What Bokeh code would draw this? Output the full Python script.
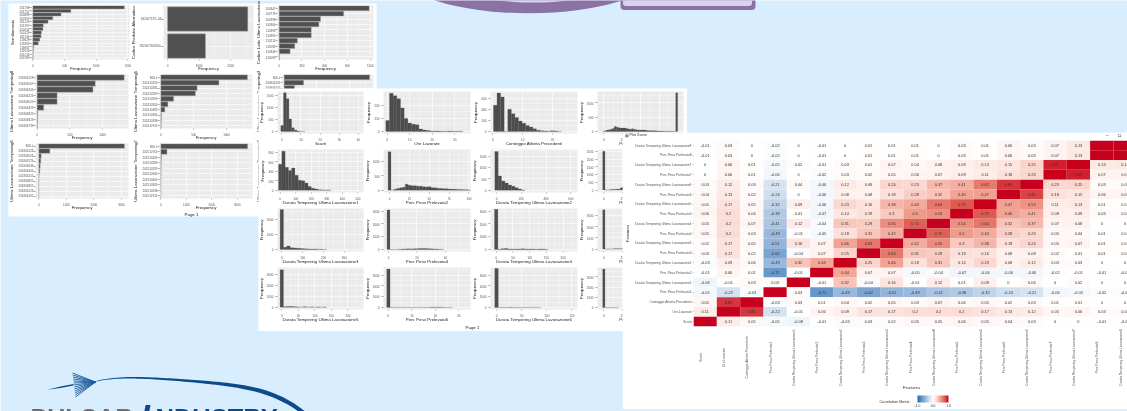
import numpy as np
from bokeh.core.properties import value
from bokeh.embed import file_html
from bokeh.models import (ColorBar, ColumnDataSource, FactorRange, FixedTicker,
                          LinearColorMapper, Range1d)
from bokeh.plotting import figure
from bokeh.resources import INLINE

# ---------- sheet 1: frequency bars ----------
SEMI_CATS = ["201798", "201751", "200889", "200297", "201129", "201297", "200254", "200129",
             "201131", "119628", "121895", "119691", "119530", "201214", "203785"]
SEMI_VALS = [1445, 600, 445, 315, 240, 165, 160, 135, 130, 110, 85, 12, 8, 5, 5]
ALT_CATS = ["94200757/1-I-B", "94200759/2900-"]
ALT_VALS = [2535, 1200]
LOT_CATS = ["100347", "100773", "100398", "100364", "110398", "110381", "110212", "110583", "110344", "110099"]
LOT_VALS = [1186, 850, 545, 523, 423, 423, 240, 205, 144, 5]
UL8_CATS = ["201806128", "201806207", "201806205", "201806225", "201806025", "201806425", "201806825", "201806923", "201806739"]
UL8_VALS = [1330, 888, 853, 305, 305, 100, 10, 8, 5]
UL5_CATS = ["NULL", "202410261", "202410281", "202410287", "202410581", "202410262", "202410481", "202410381", "202410286", "202410751"]
UL5_VALS = [1316, 883, 551, 525, 194, 107, 61, 10, 8, 5]
UL3_CATS = ["NULL", "200906101", "200906102", "200906103", "200906104", "200906105", "200906106", "200906107", "200906108", "200906109"]
UL3_VALS = [1316, 300, 160, 90, 60, 40, 30, 20, 10, 5]
UL6_CATS = ["NULL", "201806128", "201806526", "201806729", "201806639", "201806455", "201806255", "201806825", "201806857", "201806129", "201806197"]
UL6_VALS = [3108, 400, 85, 70, 50, 35, 8, 6, 5, 4, 3]
UL7_CATS = ["NULL", "202510761", "202510261", "202510281", "202510287", "202510581", "202510461", "202510381", "202510286", "202510751"]
UL7_VALS = [3408, 240, 25, 15, 10, 8, 5, 4, 3, 2]

# ---------- sheet 2: histograms (bin start, bin width, counts) ----------
H_SCARTI = (-0.5, 1.4, [250, 1600, 1350, 520, 160, 60, 20, 6, 3])
H_ORE = (-0.6, 1.63, [210, 730, 680, 625, 450, 250, 160, 140, 130, 50, 30, 20, 10, 10, 8, 5, 5, 8, 6, 3, 5])
H_CONT = (0.2, 1.2, [470, 690, 620, 0, 400, 320, 250, 190, 150, 110, 80, 50, 25, 15, 10, 5, 14, 8, 3])
H_P1 = (-1.3, 2.6, [10, 30, 50, 60, 80, 110, 175, 150, 130, 120, 125, 120, 110, 90, 80, 95, 75, 60, 55, 50,
                    50, 55, 45, 35, 30, 30, 28, 25, 20, 18, 15, 14, 12, 10, 8, 8, 6, 0, 1354])
H_D1 = (-10, 21, [550, 830, 490, 420, 470, 320, 210, 200, 150, 80, 40, 25, 10, 5, 3, 2])
H_P2 = (-1.8, 3.6, [1350, 0, 30, 60, 80, 100, 210, 170, 150, 150, 140, 135, 120, 110, 120, 85, 80, 65, 60, 50, 45, 40, 35, 30, 25, 20, 15, 10, 5])
H_D2 = (-13.5, 27, [1700, 620, 400, 320, 230, 170, 110, 50, 10])
H_P3 = (-1.5, 3, [2500, 5, 5, 20, 30, 40, 50, 60, 150, 200, 120, 80, 60, 40, 25, 15, 10, 5])
H_D3 = (-8, 16, [2650, 150, 230, 120, 100, 80, 60, 50, 40, 30, 30, 20, 15, 5])
H_P4 = (-1, 2, [3100, 0, 0, 5, 10, 30, 40, 50, 45, 50, 60, 70, 80, 75, 60, 50, 40, 30, 10, 5])
H_D4 = (-5, 10, [3150, 20, 60, 80, 40, 30, 35, 40, 50, 40, 35, 30, 25, 40, 30, 10])
H_P5 = (-1.5, 3, [3513, 2, 4, 8, 15, 30, 40, 30, 20, 15, 10, 5])
H_D5 = (-5, 10, [3400, 40, 50, 60, 40, 20, 0, 30, 0, 25, 0, 25, 0, 20])
H_P6 = (-0.7, 1.4, [3550, 0, 0, 0, 2, 0, 0, 0, 2, 0, 3, 0, 5, 10, 30, 30, 10, 3, 0, 2])
H_D6 = (-3.5, 7, [3600, 0, 0, 0, 20, 0, 0, 0, 2, 0, 3, 0, 2])
H_P7 = (-1.5, 3, [3750, 0, 2, 0, 3, 5, 2])

# ---------- correlation matrix ----------
DUR = "Durata Tempering Ultima Lavorazione"
PERC = "Perc.Peso.Prelevato"
FEATURES = ["Scarti", "Ore.Lavorate", "Conteggio.Attivita.Precedenti"]
for _n in range(1, 9):
    FEATURES += [f"{PERC}{_n}", f"{DUR}{_n}"]

MATRIX_TOP_DOWN = [
    [-0.01, 0.03, 0, -0.02, 0, -0.01, 0, 0.01, 0.01, 0.01, 0, 0.03, 0.01, 0.06, 0.03, 0.07, 0.13, 1, 1],
    [-0.01, 0.03, 0, -0.02, 0, -0.01, 0, 0.01, 0.01, 0.01, 0, 0.03, 0.01, 0.06, 0.03, 0.07, 0.13, 1, 1],
    [0, 0.06, 0.01, -0.05, 0.02, -0.01, 0.03, 0.01, 0.07, 0.04, 0.08, 0.09, 0.13, 0.15, 0.25, 0.91, 1, 0.13, 0.13],
    [0, 0.06, 0.01, -0.06, 0, -0.02, 0.03, 0.02, 0.05, 0.06, 0.07, 0.09, 0.11, 0.18, 0.23, 1, 0.91, 0.07, 0.07],
    [0.03, 0.12, 0.03, -0.21, 0.04, -0.06, 0.12, 0.08, 0.24, 0.23, 0.37, 0.41, 0.62, 0.85, 1, 0.23, 0.25, 0.03, 0.03],
    [0.04, 0.13, 0.02, -0.24, 0, -0.06, 0.08, 0.08, 0.18, 0.28, 0.32, 0.46, 0.47, 1, 0.81, 0.18, 0.15, 0.06, 0.06],
    [0.05, 0.17, 0.05, -0.32, 0.09, -0.06, 0.23, 0.16, 0.38, 0.43, 0.64, 0.75, 1, 0.47, 0.53, 0.11, 0.13, 0.01, 0.01],
    [0.06, 0.2, 0.04, -0.38, 0.01, -0.07, 0.14, 0.19, 0.3, 0.5, 0.54, 1, 0.75, 0.46, 0.41, 0.09, 0.09, 0.03, 0.03],
    [0.05, 0.2, 0.07, -0.41, 0.12, -0.04, 0.31, 0.29, 0.55, 0.72, 1, 0.54, 0.64, 0.32, 0.37, 0.07, 0.08, 0, 0],
    [0.05, 0.2, 0.03, -0.49, -0.01, -0.05, 0.18, 0.31, 0.42, 1, 0.72, 0.5, 0.43, 0.28, 0.23, 0.05, 0.04, 0.01, 0.01],
    [0.02, 0.17, 0.05, -0.51, 0.16, 0.07, 0.46, 0.63, 1, 0.42, 0.55, 0.3, 0.38, 0.19, 0.24, 0.05, 0.07, 0.01, 0.01],
    [0.03, 0.17, 0.02, -0.62, -0.04, 0.07, 0.25, 1, 0.63, 0.31, 0.29, 0.19, 0.16, 0.08, 0.08, 0.02, 0.01, 0.01, 0.01],
    [-0.03, 0.09, 0.04, -0.49, 0.32, 0.44, 1, 0.25, 0.46, 0.18, 0.31, 0.14, 0.23, 0.08, 0.12, 0.03, 0.03, 0, 0],
    [-0.01, 0.06, 0.01, -0.71, -0.01, 1, 0.44, 0.07, 0.07, -0.05, -0.04, -0.07, -0.06, -0.06, -0.06, -0.02, -0.01, -0.01, -0.01],
    [-0.08, -0.01, 0.03, 0.03, 1, -0.01, 0.32, -0.04, 0.16, -0.01, 0.12, 0.01, 0.09, 0, 0.04, 0, 0.02, 0, 0],
    [-0.05, -0.22, -0.03, 1, 0.03, -0.71, -0.49, -0.62, -0.51, -0.49, -0.41, -0.38, -0.32, -0.24, -0.21, -0.06, -0.05, -0.02, -0.02],
    [0.05, 0.85, 1, -0.03, 0.03, 0.01, 0.04, 0.02, 0.05, 0.03, 0.07, 0.04, 0.05, 0.02, 0.03, 0.01, 0.01, 0, 0],
    [0.11, 1, 0.85, -0.22, -0.01, 0.06, 0.09, 0.17, 0.17, 0.2, 0.2, 0.2, 0.17, 0.13, 0.12, 0.05, 0.06, 0.03, 0.03],
    [1, 0.11, 0.05, -0.05, -0.08, -0.01, -0.03, 0.03, 0.02, 0.05, 0.05, 0.06, 0.05, 0.04, 0.03, 0, 0, -0.01, -0.01],
]

FONT = "Liberation Sans"
BG = "#d8eeff"
BLUR = "blur(0.55px)"
children = []


def place(p, left, top):
    p.styles = {"position": "absolute", "left": f"{left}px", "top": f"{top}px", "filter": BLUR}
    children.append(p)
    return p


def blank(left, top, w, h, fill):
    p = figure(width=w, height=h, x_range=Range1d(left, left + w), y_range=Range1d(top + h, top),
               toolbar_location=None, output_backend="svg", min_border=0,
               x_axis_location=None, y_axis_location=None, background_fill_color=fill,
               border_fill_color=fill, outline_line_color=None)
    p.grid.visible = False
    return place(p, left, top)


def style_axes(p, xlabel, ylabel, x_title_gap, y_title_gap):
    for ax in (p.xaxis[0], p.yaxis[0]):
        ax.axis_line_color = None
        ax.major_tick_line_color = "#444444"
        ax.major_tick_line_width = 0.5
        ax.major_tick_in = 0
        ax.major_tick_out = 2
        ax.minor_tick_line_color = None
        ax.major_label_text_font = FONT
        ax.major_label_text_font_size = "3px"
        ax.major_label_text_color = "#555555"
        ax.major_label_standoff = 0
        ax.axis_label_text_font = FONT
        ax.axis_label_text_font_style = "normal"
        ax.axis_label_text_font_size = "4.4px"
        ax.axis_label_text_color = "#222222"
    p.xaxis[0].major_tick_out = 1
    p.xaxis[0].axis_label = xlabel
    p.yaxis[0].axis_label = ylabel
    p.xaxis[0].axis_label_standoff = x_title_gap
    p.yaxis[0].axis_label_standoff = y_title_gap


def ticker(ticks):
    step = ticks[1] - ticks[0]
    minor = [t + step / 2 for t in ticks] + [ticks[0] - step / 2]
    return FixedTicker(ticks=ticks, minor_ticks=minor)


def base(box, x_range, y_range):
    left, top, right, bottom = box
    L, R, T, B = 62, 10, 4, 22
    p = figure(frame_width=right - left, frame_height=bottom - top, x_range=x_range, y_range=y_range,
               toolbar_location=None, output_backend="svg", min_border_left=L, min_border_right=R,
               min_border_top=T, min_border_bottom=B, background_fill_color="#ebebeb",
               border_fill_color=None, outline_line_color=None)
    p.xgrid.grid_line_color = "white"
    p.ygrid.grid_line_color = "white"
    p.xgrid.grid_line_width = 0.6
    p.ygrid.grid_line_width = 0.6
    p.xgrid.minor_grid_line_color = "white"
    p.xgrid.minor_grid_line_width = 0.3
    return place(p, left - L, top - T)


def hbars(box, xr, xticks, cats, vals, ylabel):
    p = base(box, Range1d(*xr), FactorRange(factors=cats[::-1], range_padding=0))
    p.hbar(y=cats, right=vals, left=0, height=0.9, fill_color="#505050", line_color="#a8a8a8", line_width=0.4)
    style_axes(p, "Frequency", ylabel, -4, 1)
    p.xaxis[0].ticker = ticker(xticks)


def hist(box, xr, yr, xticks, yticks, data, xlabel):
    p = base(box, Range1d(*xr), Range1d(*yr))
    start, width, counts = data
    lefts = [start + i * width for i in range(len(counts))]
    rights = [start + (i + 1) * width for i in range(len(counts))]
    p.quad(left=lefts, right=rights, bottom=0, top=counts, fill_color="#4d4d4d", line_color="#4d4d4d", line_width=0.2)
    style_axes(p, xlabel, "Frequency", -3, 0)
    p.xaxis[0].ticker = ticker(xticks)
    p.yaxis[0].ticker = ticker(yticks)
    p.ygrid.minor_grid_line_color = "white"
    p.ygrid.minor_grid_line_width = 0.3


# ---------- background slide ----------
bg = blank(0, 0, 1127, 411, BG)
bg.ellipse(x=[528], y=[-30], width=[262], height=[85.4], fill_color="#8b72a4", line_color=None)
bg.ellipse(x=[533], y=[-30], width=[206], height=[64], fill_color="#dcd2ee", line_color=None)
bg.quad(left=[620], right=[755], top=[-6], bottom=[9.5], fill_color="#8b72a4", line_color=None, border_radius=4)
bg.quad(left=[622.5], right=[751.5], top=[-6], bottom=[5.5], fill_color="#dcd2ee", line_color=None, border_radius=3)
# logo
BLUE = "#0c4a8a"
bg.patch([46.7, 60, 73, 73, 60], [389.2, 386, 383.6, 385, 387.4], fill_color=BLUE, line_color=None)
_t = np.linspace(95, 304, 60)
_upper = np.polyval(np.polyfit([95, 137, 187, 253, 287, 304], [380.6, 376.8, 378.5, 387.5, 398, 411], 4), _t)
_lower = np.polyval(np.polyfit([95, 137, 187, 253, 287, 304], [381, 378.4, 381, 391.5, 403, 416], 4), _t)
bg.patch(list(_t) + list(_t[::-1]), list(_upper) + list(_lower[::-1]), fill_color=BLUE, line_color=None)
bg.multi_line([[72 + i * 0.25, 95] for i in range(0, 13)], [[372.5 + i * 2, 381.5] for i in range(0, 13)],
              line_color="#1d5c9c", line_width=0.9)
bg.text(x=[30], y=[403.5], text=["PULSAR"], text_font=value(FONT), text_font_style="bold",
        text_font_size="25px", text_color="#6b6f75", text_baseline="top")
bg.text(x=[140], y=[396], text=["I"], text_font=value(FONT), text_font_style="bold italic",
        text_font_size="34px", text_color=BLUE, text_baseline="top")
bg.text(x=[155], y=[403.5], text=["NDUSTRY"], text_font=value(FONT), text_font_style="bold",
        text_font_size="25.5px", text_color=BLUE, text_baseline="top")
# sheet 1
bg.quad(left=[8], right=[376], top=[3], bottom=[216], fill_color="white", line_color=None)
bg.text(x=[191], y=[213.7], text=["Page 1"], text_font=value(FONT), text_font_size="4.4px", text_color="#222222",
        text_align="center", text_baseline="middle")

# ---------- sheet 1 panels ----------
hbars((31, 5, 129, 59), (-21, 1526), [0, 500, 1000, 1500], SEMI_CATS, SEMI_VALS, "Semilavorato")
hbars((163, 5, 253, 59), (-126, 2716), [0, 1000, 2000], ALT_CATS, ALT_VALS, "Codice Prodotto Alternativo")
hbars((277, 5, 373, 59), (-22, 1243), [0, 300, 600, 900, 1200], LOT_CATS, LOT_VALS, "Codice Lotto Ultimo Lavorazione")
hbars((35, 74, 128, 128), (-25, 1396), [0, 500, 1000], UL8_CATS, UL8_VALS, "Ultima Lavorazione Tempering8")
hbars((159, 74, 252, 128), (-20, 1393), [0, 500, 1000], UL5_CATS, UL5_VALS, "Ultima Lavorazione Tempering5")
hbars((282, 74, 373, 128), (-25, 1375), [0, 500, 1000], UL3_CATS, UL3_VALS, "Ultima Lavorazione Tempering3")
hbars((35, 143, 128, 198), (-120, 3253), [0, 1000, 2000, 3000], UL6_CATS, UL6_VALS, "Ultima Lavorazione Tempering6")
hbars((159, 143, 252, 198), (-53, 3600), [0, 1000, 2000, 3000], UL7_CATS, UL7_VALS, "Ultima Lavorazione Tempering7")
hbars((282, 143, 373, 198), (-53, 3600), [0, 1000, 2000, 3000], UL3_CATS, UL3_VALS, "Ultima Lavorazione Tempering4")

# ---------- sheet 2 ----------
s2 = blank(258, 88, 429, 243, "white")
s2.text(x=[472], y=[326.7], text=["Page 1"], text_font=value(FONT), text_font_size="4.4px", text_color="#222222",
        text_align="center", text_baseline="middle")

C1, C2, C3, C4 = (277, 363), (383, 470), (490, 577), (597, 683)
R1, R2, R3, R4 = (91, 133), (149, 192), (208, 251), (267, 309)


def box(c, r):
    return (c[0], r[0], c[1], r[1])


hist(box(C1, R1), (-2.24, 42.6), (-81, 1649), [0, 10, 20, 30, 40], [0, 500, 1000, 1500], H_SCARTI, "Scarti")
hist(box(C2, R1), (-1.63, 37), (-37.5, 762), [0, 10, 20, 30], [0, 250, 500], H_ORE, "Ore Lavorate")
hist(box(C3, R1), (-0.79, 28.4), (-35, 718), [0, 10, 20], [0, 200, 400, 600], H_CONT, "Conteggio Attivita Precedenti")
hist(box(C4, R1), (-8.6, 108), (-69, 1399), [0, 25, 50, 75, 100], [0, 500, 1000], H_P1, "Perc Peso Prelevato1")
hist(box(C1, R2), (-17, 536), (-50, 866), [0, 100, 200, 300, 400, 500], [0, 200, 400, 600, 800], H_D1, "Durata Tempering Ultima Lavorazione1")
hist(box(C2, R2), (-7.6, 102), (-83, 1428), [0, 25, 50, 75, 100], [0, 500, 1000], H_P2, "Perc Peso Prelevato2")
hist(box(C3, R2), (-48.6, 654), (-104, 1791), [0, 200, 400, 600], [0, 500, 1000, 1500], H_D2, "Durata Tempering Ultima Lavorazione2")
hist(box(C4, R2), (-8.6, 108), (-157, 2614), [0, 25, 50, 75, 100], [0, 500, 1000, 1500, 2000, 2500], H_P3, "Perc Peso Prelevato3")
hist(box(C1, R3), (-20.6, 392), (-133, 2711), [0, 100, 200, 300], [0, 1000, 2000], H_D3, "Durata Tempering Ultima Lavorazione3")
hist(box(C2, R3), (-3.5, 57.6), (-158, 3210), [0, 20, 40], [0, 1000, 2000, 3000], H_P4, "Perc Peso Prelevato4")
hist(box(C3, R3), (-17, 243), (-158, 3210), [0, 50, 100, 150, 200], [0, 1000, 2000, 3000], H_D4, "Durata Tempering Ultima Lavorazione4")
hist(box(C4, R3), (-8.6, 108), (-216, 3630), [0, 25, 50, 75, 100], [0, 1000, 2000, 3000], H_P5, "Perc Peso Prelevato5")
hist(box(C1, R4), (-13, 247), (-212, 3606), [0, 50, 100, 150, 200], [0, 1000, 2000, 3000], H_D5, "Durata Tempering Ultima Lavorazione5")
hist(box(C2, R4), (-2.1, 35), (-187, 3700), [0, 10, 20, 30], [0, 1000, 2000, 3000], H_P6, "Perc Peso Prelevato6")
hist(box(C3, R4), (-12, 161), (-187, 3700), [0, 50, 100, 150], [0, 1000, 2000, 3000], H_D6, "Durata Tempering Ultima Lavorazione6")
hist(box(C4, R4), (-8.6, 108), (-192, 3900), [0, 25, 50, 75, 100], [0, 1000, 2000, 3000], H_P7, "Perc Peso Prelevato7")


# ---------- correlation window ----------
def lerp_palette(stops, n=257):
    out = []
    for i in range(n):
        t = -1 + 2 * i / (n - 1)
        for (a, ca), (b, cb) in zip(stops, stops[1:]):
            if a <= t <= b:
                f = (t - a) / (b - a)
                rgb = [round(ca[k] + (cb[k] - ca[k]) * f) for k in range(3)]
                out.append("#%02x%02x%02x" % tuple(rgb))
                break
    return out


STOPS = [(-1, (33, 102, 172)), (-.75, (95, 146, 198)), (-.5, (152, 183, 218)), (-.25, (207, 222, 238)),
         (0, (255, 255, 255)), (.25, (251, 213, 204)), (.5, (240, 154, 138)), (.75, (222, 90, 80)), (1, (200, 0, 30))]
mapper = LinearColorMapper(palette=lerp_palette(STOPS), low=-1, high=1)

n = len(FEATURES)
xs, ys, vs, txt = [], [], [], []
for i, row in enumerate(MATRIX_TOP_DOWN):
    for j, v in enumerate(row):
        xs.append(j)
        ys.append(n - 1 - i)
        vs.append(v)
        txt.append(f"{v:g}")
src = ColumnDataSource(dict(x=xs, y=ys, v=vs, t=txt))

CELL_W = 23.33
hm = figure(frame_width=439, frame_height=186, x_range=Range1d(-0.5, -0.5 + 439 / CELL_W), y_range=Range1d(-0.5, n - 0.5),
            toolbar_location=None, output_backend="svg", min_border_left=66, min_border_right=0,
            min_border_top=8, min_border_bottom=83, background_fill_color="white", border_fill_color="white",
            outline_line_color=None)
hm.grid.visible = False
hm.rect(x="x", y="y", width=1, height=1, source=src, fill_color={"field": "v", "transform": mapper}, line_color=None)
hm.text(x="x", y="y", text="t", source=src, text_font=value(FONT), text_font_size="3.9px", text_color="#333333",
        text_align="center", text_baseline="middle")
hm.xaxis.visible = False
ya = hm.yaxis[0]
ya.ticker = FixedTicker(ticks=list(range(n)))
ya.major_label_overrides = {i: f for i, f in enumerate(FEATURES)}
ya.axis_line_color = None
ya.major_tick_in = 0
ya.major_tick_out = 1
ya.major_tick_line_width = 0.4
ya.major_tick_line_color = "#555555"
ya.minor_tick_line_color = None
ya.major_label_text_font = FONT
ya.major_label_text_font_size = "3.25px"
ya.major_label_text_color = "#555555"
ya.major_label_standoff = 1
ya.axis_label = "Features"
ya.axis_label_text_font = FONT
ya.axis_label_text_font_style = "normal"
ya.axis_label_text_font_size = "4.4px"
ya.axis_label_text_color = "#333333"
ya.axis_label_standoff = 2
cb = ColorBar(color_mapper=mapper, orientation="horizontal", width=31, height=7, padding=0, margin=0,
              location=(224, -83), ticker=FixedTicker(ticks=[-1, -0.5, 0, 0.5, 1]), major_tick_line_color=None,
              major_label_overrides={-1: "-1.0", -0.5: "-0.5", 0: "0.0", 0.5: "0.5", 1: "1.0"},
              major_label_text_font=FONT, major_label_text_font_size="3.4px", major_label_text_color="#333333",
              label_standoff=1, background_fill_color=None, border_line_color=None, bar_line_color=None)
hm.add_layout(cb, "center")
place(hm, 622, 132)

# window texts laid over the heatmap (pixel space of the window)
ov = blank(622, 132, 505, 277, None)
ov.background_fill_color = None
ov.border_fill_color = None
col_x = [700 + CELL_W * i for i in range(n)]
ov.text(x=col_x, y=[357] * n, text=FEATURES, angle=90, angle_units="deg", text_font=value(FONT),
        text_font_size="3.25px", text_color="#555555", text_align="center", text_baseline="middle")
ov.text(x=[911], y=[387.3], text=["Features"], text_font=value(FONT), text_font_size="4.4px", text_color="#333333",
        text_align="center", text_baseline="middle")
ov.text(x=[909], y=[401], text=["Correlation Matrix"], text_font=value(FONT), text_font_size="3.8px", text_color="#333333",
        text_align="right", text_baseline="middle")
ov.text(x=[629], y=[134], text=["Plot Zoom"], text_font=value(FONT), text_font_size="3.8px", text_color="#333333",
        text_align="left", text_baseline="middle")
ov.text(x=[624], y=[134], text=["▣"], text_font=value("DejaVu Sans"), text_font_size="5px", text_color="#7a8a90",
        text_align="left", text_baseline="middle")
ov.text(x=[1107], y=[134], text=["–"], text_font=value(FONT), text_font_size="5px", text_color="#555555",
        text_align="center", text_baseline="middle")
ov.text(x=[1119], y=[134], text=["▫"], text_font=value("DejaVu Sans"), text_font_size="6px", text_color="#555555",
        text_align="center", text_baseline="middle")

open("out.html", "w").write(file_html(children, INLINE))
